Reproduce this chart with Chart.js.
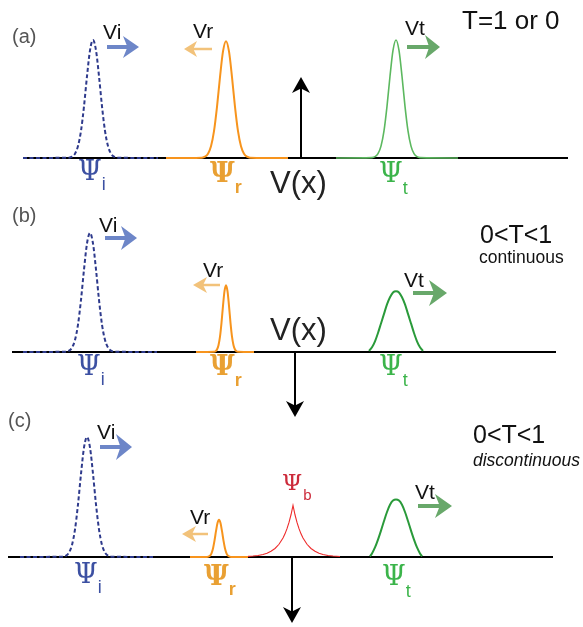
<!DOCTYPE html>
<html><head><meta charset="utf-8">
<script src="https://cdn.jsdelivr.net/npm/chart.js@4.4.1/dist/chart.umd.min.js"></script>
<style>html,body{margin:0;padding:0;background:#fff}canvas{display:block}</style>
</head><body>
<canvas id="c" width="583" height="627"></canvas>
<script>
// ---- Data (x in horizontal position units, y in amplitude units relative to each panel's baseline) ----
// Panel (a)
const psiIa_x = [23, 69,72,75,78,81,84,87,90,93,96,99,102,105,108,111,114,117, 158];
const psiIa_y = [0, 0.003,0.011,0.037,0.101,0.230,0.438,0.693,0.912,1,0.912,0.693,0.438,0.230,0.101,0.037,0.011,0.003, 0];
const psiRa_x = [166, 202,205,208,211,214,217,220,223,226,229,232,235,238,241,244,247,250, 288];
const psiRa_y = [0, 0.003,0.011,0.037,0.100,0.228,0.434,0.686,0.903,0.99,0.903,0.686,0.434,0.228,0.100,0.037,0.011,0.003, 0];
const psiTa_x = [336, 372,375,378,381,384,387,390,393,396,399,402,405,408,411,414,417,420, 458];
const psiTa_y = [0, 0.003,0.011,0.037,0.101,0.230,0.438,0.693,0.912,1,0.912,0.693,0.438,0.230,0.101,0.037,0.011,0.003, 0];
const baseA_x = [23, 568];
const baseA_y = [0, 0];
// Panel (b)
const psiIb_x = [23, 66,69,72,75,78,81,84,87,90,93,96,99,102,105,108,111,114, 157];
const psiIb_y = [0, 0.003,0.011,0.037,0.101,0.230,0.438,0.693,0.912,1,0.912,0.693,0.438,0.230,0.101,0.037,0.011,0.003, 0];
const psiRb_x = [196, 214,215.5,217,218.5,220,221.5,223,224.5,226,227.5,229,230.5,232,233.5,235,236.5,238, 254];
const psiRb_y = [0, 0.002,0.006,0.021,0.057,0.129,0.245,0.388,0.511,0.56,0.511,0.388,0.245,0.129,0.057,0.021,0.006,0.002, 0];
const psiTb_x = [369,372,375,378,381,384,387,390,393,396,399,402,405,408,411,414,417,420,423];
const psiTb_y = [0.01,0.04,0.09,0.16,0.24,0.32,0.40,0.46,0.50,0.51,0.50,0.46,0.40,0.32,0.24,0.16,0.09,0.04,0.01];
const baseB_x = [12, 556];
const baseB_y = [0, 0];
// Panel (c)
const psiIc_x = [20, 63,66,69,72,75,78,81,84,87,90,93,96,99,102,105,108,111, 153];
const psiIc_y = [0, 0.003,0.011,0.037,0.101,0.230,0.438,0.693,0.912,1,0.912,0.693,0.438,0.230,0.101,0.037,0.011,0.003, 0];
const psiRc_x = [190, 207,208.5,210,211.5,213,214.5,216,217.5,219,220.5,222,223.5,225,226.5,228,229.5,231, 248];
const psiRc_y = [0, 0.001,0.003,0.011,0.031,0.071,0.136,0.215,0.283,0.31,0.283,0.215,0.136,0.071,0.031,0.011,0.003,0.001, 0];
const psiBc_x = [248,253,258,263,267,271,275,279,283,285,287,289,291,293,295,297,299,301,303,307,311,315,319,323,328,333,340];
const psiBc_y = [0.005,0.008,0.013,0.021,0.032,0.048,0.071,0.106,0.158,0.193,0.236,0.288,0.352,0.43,0.352,0.288,0.236,0.193,0.158,0.106,0.071,0.048,0.032,0.021,0.013,0.008,0.004];
const psiTc_x = [370,372,375,378,381,384,387,390,393,396,399,402,405,408,411,414,417,420,422];
const psiTc_y = [0.005,0.03,0.08,0.145,0.22,0.30,0.375,0.435,0.47,0.48,0.47,0.435,0.375,0.30,0.22,0.145,0.08,0.03,0.005];
const baseC_x = [8, 553];
const baseC_y = [0, 0];

// ---- Layout / styling ----
const W = 583, H = 627;
const panels = { ya: {base:158, ppu:118}, yb: {base:352, ppu:119}, yc: {base:557, ppu:120} };
const C = {
  blue:'#2e3a8c', orange:'#f7941d', greenA:'#5cb85f', green:'#2a9a3a', red:'#ee2b2b',
  lblBlue:'#3c50a2', lblOrange:'#e9a033', lblGreen:'#3bb44a', lblRed:'#cc2a3a',
  arrBlue:'#6d86c8', arrOrange:'#f2c27a', arrGreen:'#68a86a'
};
const zip = (xs, ys) => xs.map((x, i) => ({x, y: ys[i]}));
function ds(xs, ys, axis, color, width, extra) {
  return Object.assign({data: zip(xs, ys), yAxisID: axis, borderColor: color, borderWidth: width,
    pointRadius: 0, fill: false, cubicInterpolationMode: 'monotone', clip: false, order: 1}, extra || {});
}
const dash = {borderDash: [4, 2.5]};
const datasets = [
  ds(psiIa_x, psiIa_y, 'ya', C.blue, 2, dash),
  ds(psiRa_x, psiRa_y, 'ya', C.orange, 2),
  ds(psiTa_x, psiTa_y, 'ya', C.greenA, 1.6),
  ds(psiIb_x, psiIb_y, 'yb', C.blue, 2, dash),
  ds(psiRb_x, psiRb_y, 'yb', C.orange, 2),
  ds(psiTb_x, psiTb_y, 'yb', C.green, 2),
  ds(psiIc_x, psiIc_y, 'yc', C.blue, 2, dash),
  ds(psiRc_x, psiRc_y, 'yc', C.orange, 2),
  ds(psiBc_x, psiBc_y, 'yc', C.red, 1.1, {cubicInterpolationMode: 'default', tension: 0}),
  ds(psiTc_x, psiTc_y, 'yc', C.green, 2),
  ds(baseA_x, baseA_y, 'ya', '#000', 2, {order: 10}),
  ds(baseB_x, baseB_y, 'yb', '#000', 2, {order: 10}),
  ds(baseC_x, baseC_y, 'yc', '#000', 2, {order: 10})
];
function yScale(p) {
  return {type: 'linear', display: false, min: -(H - p.base) / p.ppu, max: p.base / p.ppu};
}

// annotations: x in data units, dy = pixels above the panel baseline
const SANS = '"Liberation Sans", Arial, Helvetica, sans-serif';
const SERIF = '"DejaVu Serif", "Liberation Serif", serif';
const PSI = '27px ' + SERIF, PSIB = 'bold 27px ' + SERIF, SUB = '18px ' + SANS, SUBB = 'bold 18px ' + SANS;
const annotations = {
  ya: {
    harrows: [
      {x1:107, x2:139, dy:111, w:4, L:16, h:11, c:C.arrBlue},
      {x1:212, x2:184, dy:109, w:2.5, L:13, h:8, c:C.arrOrange},
      {x1:407, x2:440, dy:111, w:4, L:15, h:12, c:C.arrGreen}
    ],
    varrow: {x:301, dy1:0, dy2:81},
    texts: [
      {t:'(a)', x:12, dy:115, f:'20px '+SANS, c:'#555'},
      {t:'Vi', x:103, dy:119, f:'21px '+SANS, c:'#111'},
      {t:'Vr', x:193, dy:120, f:'21px '+SANS, c:'#111'},
      {t:'Vt', x:405, dy:123, f:'21px '+SANS, c:'#111'},
      {t:'T=1 or 0', x:462, dy:129, f:'26px '+SANS, c:'#111'},
      {t:'V(x)', x:270, dy:-35, f:'31px '+SANS, c:'#222'},
      {t:'Ψ', x:78, dy:-22, f:PSI, c:C.lblBlue},
      {t:'i', after:true, gap:0, dy:-32, f:SUB, c:C.lblBlue},
      {t:'Ψ', x:210, dy:-24, f:PSIB, c:C.lblOrange},
      {t:'r', after:true, gap:0, dy:-35, f:SUBB, c:C.lblOrange},
      {t:'Ψ', x:379, dy:-24, f:PSI, c:C.lblGreen},
      {t:'t', after:true, gap:0, dy:-36, f:SUB, c:C.lblGreen}
    ]
  },
  yb: {
    harrows: [
      {x1:105, x2:137, dy:114, w:4, L:16, h:12, c:C.arrBlue},
      {x1:220, x2:193, dy:67, w:2.5, L:14, h:8, c:C.arrOrange},
      {x1:413, x2:447, dy:59, w:4, L:18, h:13, c:C.arrGreen}
    ],
    varrow: {x:295, dy1:0, dy2:-65},
    texts: [
      {t:'(b)', x:12, dy:130, f:'20px '+SANS, c:'#555'},
      {t:'Vi', x:99, dy:120, f:'21px '+SANS, c:'#111'},
      {t:'Vr', x:203, dy:75, f:'21px '+SANS, c:'#111'},
      {t:'Vt', x:404, dy:65, f:'21px '+SANS, c:'#111'},
      {t:'0<T<1', x:480, dy:109, f:'25px '+SANS, c:'#111'},
      {t:'continuous', x:479, dy:89, f:'17.5px '+SANS, c:'#111'},
      {t:'V(x)', x:270, dy:12, f:'31px '+SANS, c:'#222'},
      {t:'Ψ', x:77, dy:-23, f:PSI, c:C.lblBlue},
      {t:'i', after:true, gap:0, dy:-33, f:SUB, c:C.lblBlue},
      {t:'Ψ', x:210, dy:-23, f:PSIB, c:C.lblOrange},
      {t:'r', after:true, gap:0, dy:-34, f:SUBB, c:C.lblOrange},
      {t:'Ψ', x:379, dy:-23, f:PSI, c:C.lblGreen},
      {t:'t', after:true, gap:0, dy:-34, f:SUB, c:C.lblGreen}
    ]
  },
  yc: {
    harrows: [
      {x1:100, x2:132, dy:110, w:4, L:16, h:13, c:C.arrBlue},
      {x1:208, x2:182, dy:23, w:2.5, L:14, h:8, c:C.arrOrange},
      {x1:418, x2:452, dy:51, w:4, L:17, h:12, c:C.arrGreen}
    ],
    varrow: {x:292, dy1:0, dy2:-66},
    texts: [
      {t:'(c)', x:8, dy:130, f:'20px '+SANS, c:'#555'},
      {t:'Vi', x:97, dy:118, f:'21px '+SANS, c:'#111'},
      {t:'Vr', x:190, dy:33, f:'21px '+SANS, c:'#111'},
      {t:'Vt', x:415, dy:58, f:'21px '+SANS, c:'#111'},
      {t:'0<T<1', x:473, dy:114, f:'25px '+SANS, c:'#111'},
      {t:'discontinuous', x:473, dy:91, f:'italic 17.5px '+SANS, c:'#111'},
      {t:'Ψ', x:282, dy:67, f:'23px '+SERIF, c:C.lblRed},
      {t:'b', after:true, gap:1, dy:57, f:'15px '+SANS, c:C.lblRed},
      {t:'Ψ', x:74, dy:-26, f:PSI, c:C.lblBlue},
      {t:'i', after:true, gap:0, dy:-36, f:SUB, c:C.lblBlue},
      {t:'Ψ', x:204, dy:-28, f:PSIB, c:C.lblOrange},
      {t:'r', after:true, gap:0, dy:-38, f:SUBB, c:C.lblOrange},
      {t:'Ψ', x:382, dy:-28, f:PSI, c:C.lblGreen},
      {t:'t', after:true, gap:0, dy:-40, f:SUB, c:C.lblGreen}
    ]
  }
};

function drawHArrow(ctx, x1, x2, y, a) {
  const d = Math.sign(x2 - x1);
  ctx.save();
  ctx.strokeStyle = a.c; ctx.fillStyle = a.c; ctx.lineWidth = a.w; ctx.lineCap = 'butt';
  ctx.beginPath(); ctx.moveTo(x1, y); ctx.lineTo(x2 - d * a.L * 0.6, y); ctx.stroke();
  ctx.beginPath();
  ctx.moveTo(x2, y);
  ctx.lineTo(x2 - d * a.L, y - a.h);
  ctx.lineTo(x2 - d * a.L * 0.72, y);
  ctx.lineTo(x2 - d * a.L, y + a.h);
  ctx.closePath(); ctx.fill();
  ctx.restore();
}
function drawVArrow(ctx, x, y1, y2) {
  const d = Math.sign(y2 - y1), L = 16, h = 9;
  ctx.save();
  ctx.strokeStyle = '#000'; ctx.fillStyle = '#000'; ctx.lineWidth = 2;
  ctx.beginPath(); ctx.moveTo(x, y1); ctx.lineTo(x, y2 - d * L * 0.6); ctx.stroke();
  ctx.beginPath();
  ctx.moveTo(x, y2);
  ctx.lineTo(x - h, y2 - d * L);
  ctx.lineTo(x, y2 - d * L * 0.72);
  ctx.lineTo(x + h, y2 - d * L);
  ctx.closePath(); ctx.fill();
  ctx.restore();
}

const annotPlugin = {
  id: 'annot',
  afterDatasetsDraw(chart) {
    const ctx = chart.ctx, xs = chart.scales.x;
    for (const key of Object.keys(annotations)) {
      const ys = chart.scales[key];
      const base = ys.getPixelForValue(0);
      const A = annotations[key];
      for (const a of A.harrows) {
        drawHArrow(ctx, xs.getPixelForValue(a.x1), xs.getPixelForValue(a.x2), base - a.dy, a);
      }
      drawVArrow(ctx, xs.getPixelForValue(A.varrow.x), base - A.varrow.dy1, base - A.varrow.dy2);
      ctx.save();
      ctx.textBaseline = 'alphabetic'; ctx.textAlign = 'left';
      let lastRight = 0;
      for (const t of A.texts) {
        ctx.font = t.f; ctx.fillStyle = t.c;
        const px = t.after ? lastRight + t.gap : xs.getPixelForValue(t.x);
        ctx.fillText(t.t, px, base - t.dy);
        lastRight = px + ctx.measureText(t.t).width;
      }
      ctx.restore();
    }
  }
};

new Chart(document.getElementById('c'), {
  type: 'line',
  data: {datasets},
  options: {
    responsive: false, animation: false, devicePixelRatio: 1,
    layout: {padding: 0},
    plugins: {legend: {display: false}, tooltip: {enabled: false}, title: {display: false}},
    scales: {
      x: {type: 'linear', display: false, min: 0, max: W},
      ya: yScale(panels.ya),
      yb: yScale(panels.yb),
      yc: yScale(panels.yc)
    },
    events: []
  },
  plugins: [annotPlugin]
});
</script>
</body></html>
